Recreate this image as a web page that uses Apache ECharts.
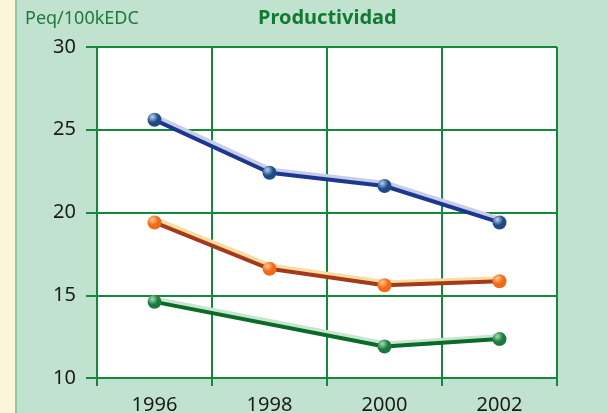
<!DOCTYPE html>
<html><head><meta charset="utf-8">
<script src="https://cdn.jsdelivr.net/npm/echarts@6/dist/echarts.min.js"></script>
<style>html,body{margin:0;padding:0;background:#c2e2d0}#c{width:608px;height:413px}</style>
</head><body><div id="c"></div>
<script>
var categories = ['1996', '1998', '2000', '2002'];
var blueValues = [25.6, 22.4, 21.6, 19.4];
var orangeValues = [19.4, 16.6, 15.6, 15.85];
var greenValues = [14.6, null, 11.9, 12.35];
var yTicks = [10, 15, 20, 25, 30];

var grn = '#15883a';
function ball(base, light) {
  return {type: 'radial', x: 0.35, y: 0.3, r: 0.75,
    colorStops: [{offset: 0, color: light}, {offset: 0.55, color: base}, {offset: 1, color: base}]};
}
function ser(name, data, line, shadow, base, light) {
  return {
    name: name, type: 'line', data: data, connectNulls: true,
    symbol: 'circle', symbolSize: 14,
    itemStyle: {color: ball(base, light), borderWidth: 0},
    lineStyle: {color: line, width: 4, shadowColor: shadow, shadowBlur: 0, shadowOffsetX: 2, shadowOffsetY: -3},
    emphasis: {disabled: true}, z: 3
  };
}
var chart = echarts.init(document.getElementById('c'));
chart.setOption({
  backgroundColor: '#c2e2d0',
  animation: false,
  graphic: [
    {type: 'rect', left: 0, top: 0, shape: {width: 15, height: 413}, style: {fill: '#fdf4dc'}, z: -1},
    {type: 'rect', left: 15, top: 0, shape: {width: 2, height: 413}, style: {fill: '#8ccaa2'}, z: -1},
    {type: 'text', left: 25, top: 10, style: {text: 'Peq/100kEDC', fill: '#1e7a3c', font: '18px "Noto Sans"'}},
    {type: 'text', left: 258, top: 8, style: {text: 'Productividad', fill: '#137a34', font: 'bold 20px "Noto Sans"'}}
  ],
  grid: {left: 97, top: 47, width: 460, height: 331, show: true, backgroundColor: '#ffffff', borderWidth: 0,
    containLabel: false, outerBoundsMode: 'none'},
  xAxis: {
    type: 'category', data: categories, boundaryGap: true,
    axisLine: {lineStyle: {color: grn, width: 2}},
    axisTick: {show: true, length: 8, lineStyle: {color: grn, width: 2}},
    splitLine: {show: true, lineStyle: {color: grn, width: 2}},
    axisLabel: {color: '#1a1a1a', fontSize: 20, margin: 17, fontFamily: 'Noto Sans'}
  },
  yAxis: {
    type: 'value', min: 10, max: 30, interval: 5,
    axisLine: {show: true, lineStyle: {color: grn, width: 2}},
    axisTick: {show: true, length: 11, lineStyle: {color: grn, width: 2}},
    splitLine: {show: true, lineStyle: {color: grn, width: 2}},
    axisLabel: {color: '#1a1a1a', fontSize: 20, margin: 21, fontFamily: 'Noto Sans',
      formatter: function (v) { return yTicks.indexOf(v) >= 0 ? String(v) : ''; }}
  },
  series: [
    ser('blue', blueValues, '#1c3790', '#c8cde8', '#1f4a8a', '#b8d4ec'),
    ser('orange', orangeValues, '#a5391c', '#f8dca0', '#f06a18', '#ffc890'),
    ser('green', greenValues, '#0a6a28', '#c6e6d0', '#1b7a3e', '#a8dcb8')
  ]
});
</script></body></html>
